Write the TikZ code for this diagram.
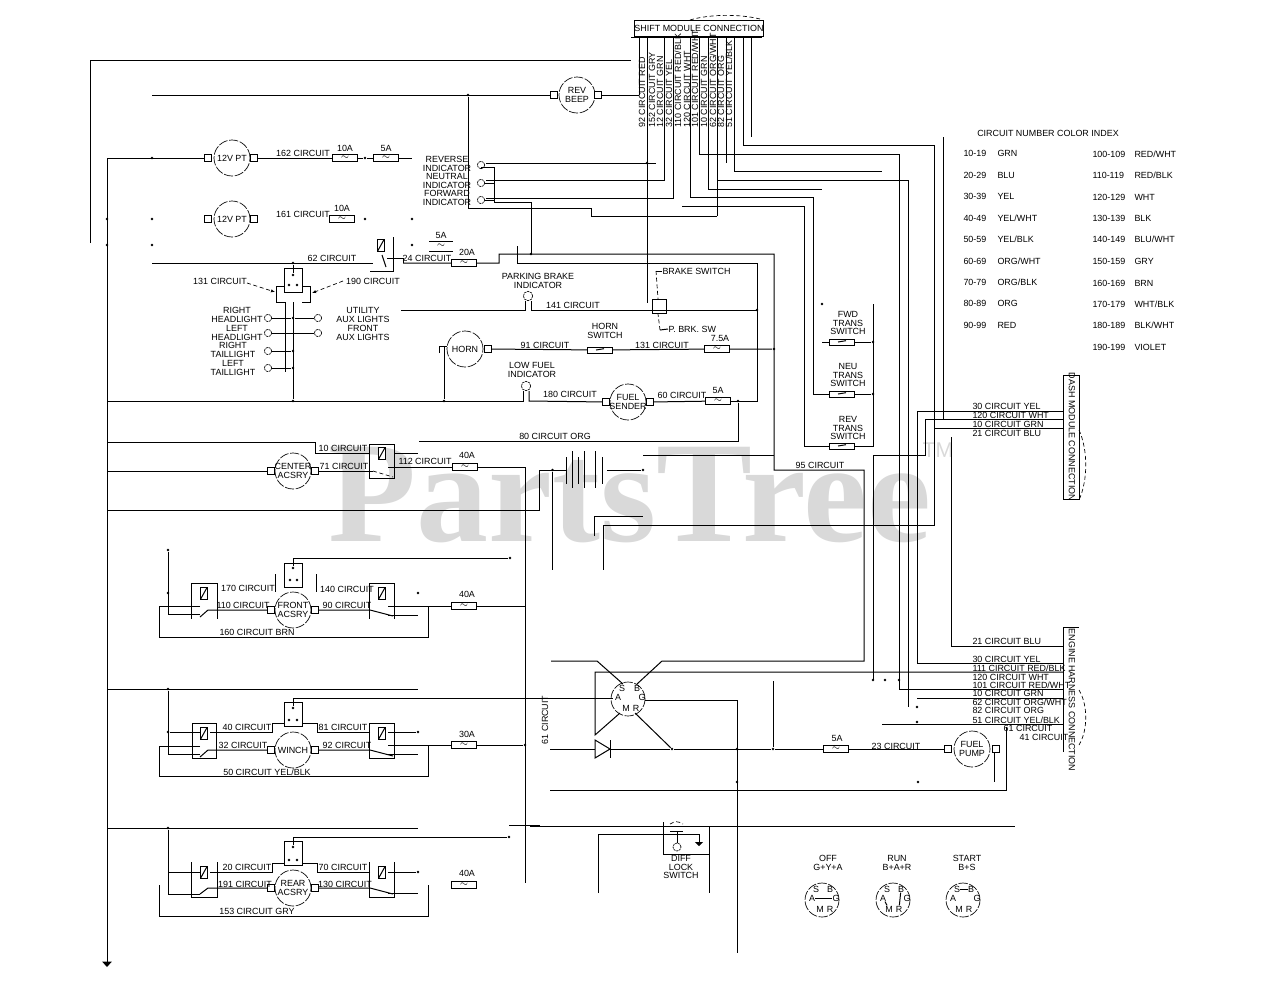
\documentclass[tikz,border=0pt]{standalone}
\usepackage{fontspec}
\setmainfont{Liberation Sans}
\newfontfamily\markfont{Liberation Serif}
\usetikzlibrary{arrows.meta}
\tikzset{
  lbl/.style={inner sep=0pt,align=center,font=\fontsize{6.7}{6.2}\selectfont},
  lbll/.style={lbl,anchor=west},
  lblv/.style={lbl,anchor=west,rotate=90},
  motor/.style={circle,draw,inner sep=0pt,minimum size=27pt,dash pattern=on 7pt off 1.2pt,line width=.5pt},
  smallcirc/.style={circle,draw,inner sep=0pt,minimum size=25.5pt,dash pattern=on 7pt off 1.2pt,line width=.5pt},
  term/.style={draw,rectangle,inner sep=0pt,minimum size=5.5pt,fill=white,path picture={\fill (path picture bounding box.center) circle (.7pt);}},
  fusebox/.style={draw,rectangle,inner sep=0pt,minimum width=18.5pt,minimum height=5.5pt,fill=white,font=\fontsize{7}{4}\selectfont},
  swbox/.style={fusebox,minimum height=4.5pt,path picture={\fill (path picture bounding box.center) ++(-3pt,0) circle (.6pt) ++(6pt,0) circle (.6pt);\draw (path picture bounding box.center) ++(-3pt,0) -- ++(6pt,1pt);}},
  relay/.style={draw,rectangle,inner sep=0pt,minimum width=18.5pt,minimum height=26pt},
  openrelay/.style={relay,draw=none},
  topbox/.style={draw,rectangle,inner sep=0pt,minimum width=13.5pt,minimum height=18pt},
  coil/.style={draw,rectangle,inner sep=0pt,minimum width=5pt,minimum height=9pt,fill=white,path picture={\draw (path picture bounding box.south west) -- (path picture bounding box.north east);}},
  lamp/.style={circle,draw,inner sep=0pt,minimum size=5.5pt,dash pattern=on 1.6pt off .6pt,line width=.5pt},
  jdot/.style={circle,fill,inner sep=0pt,minimum size=2pt},
  wire/.style={line width=.75pt},
  leader/.style={line width=.5pt,densely dashed}
}
\begin{document}
\begin{tikzpicture}[x=0.75pt,y=-0.75pt,wire]
    \useasboundingbox (0,0) rectangle (1280,989);
    % watermark
    \node [inner sep=0pt,text=black!15] (mark) at (630,495) {\markfont\bfseries\fontsize{108}{108}\selectfont PartsTree};
    \node [inner sep=0pt,text=black!15,font=\fontsize{16}{16}\selectfont] (markb) at (938,450) {TM};

    % shift module
    \node [draw,inner sep=0pt,minimum width=94pt,minimum height=12.5pt,lbl] (mod) at (699,28.5) {SHIFT MODULE CONNECTION};
    \coordinate (modl) at (631,37);
    \coordinate (modr) at (762,37);
    \draw (modl) -- (modr);
    \coordinate (arca) at (690,20);
    \coordinate (arcb) at (760,19);
    \draw [leader] (arca) .. controls (710,14) and (740,14) .. (arcb);
    \node [lblv] (v1) at (642,128) {92 CIRCUIT RED};
    \node [lblv] (v2) at (652,128) {152 CIRCUIT GRY};
    \node [lblv] (v3) at (660,128) {12 CIRCUIT GRN};
    \node [lblv] (v4) at (669,128) {32 CIRCUIT YEL};
    \node [lblv] (v5) at (678,128) {110 CIRCUIT RED/BLK};
    \node [lblv] (v6) at (687,128) {120 CIRCUIT WHT};
    \node [lblv] (v7) at (695,128) {101 CIRCUIT RED/WHT};
    \node [lblv] (v8) at (704,128) {10 CIRCUIT GRN};
    \node [lblv] (v9) at (713,128) {62 CIRCUIT ORG/WHT};
    \node [lblv] (v10) at (721,128) {82 CIRCUIT ORG};
    \node [lblv] (v11) at (729,128) {51 CIRCUIT YEL/BLK};

    \coordinate (ta) at (90,243);
    \coordinate (tb) at (631,60);
    \draw (ta) |- (tb);

    \coordinate (m1) at (639,37);
    \coordinate (m2) at (647,37);
    \coordinate (m3) at (664,37);
    \coordinate (m4) at (673,37);
    \coordinate (m5) at (690,37);
    \coordinate (m6) at (699,37);
    \coordinate (m7) at (708,37);
    \coordinate (m8) at (717,37);
    \coordinate (m9) at (726,37);
    \coordinate (m10) at (734,37);
    \coordinate (m11) at (743,37);
    \coordinate (m12) at (751,37);

    % rev beep
    \node [motor,label={[lbl]center:REV\\BEEP}] (beep) at (577,95) {};
    \node [term] (beepl) at (554,95) {};
    \node [term] (beepr) at (598,95) {};
    \coordinate (busb) at (152,95);
    \coordinate (m1b) at (639,95);
    \draw (m1) -- (m1b);
    \draw (busb) -- (beepl);
    \draw (beepr) -- (m1b);
    \node [jdot] (j468) at (468,95) {};
    \coordinate (k1) at (591,208);
    \coordinate (k2) at (717,216);
    \draw (j468) |- (k1) |- (k2);
    \draw (m8) -- (k2);

    % 12v outlets
    \node [motor,label={[lbl]center:12V PT}] (pta) at (232,158) {};
    \node [term] (ptal) at (208,158) {};
    \node [term] (ptar) at (254,158) {};
    \node [lbl] (c162) at (303,153) {162 CIRCUIT};
    \node [fusebox] (fa) at (345,158) {$\sim$};
    \node [lbl] (fal) at (345,148) {10A};
    \node [jdot] (ja) at (365,158) {};
    \node [fusebox] (fb) at (386,158) {$\sim$};
    \node [lbl] (fbl) at (386,148) {5A};
    \coordinate (fbe) at (412,158);
    \coordinate (gb1) at (107,158);
    \coordinate (gb2) at (107,967);
    \draw [-{Triangle[width=7pt,length=4pt]}] (gb1) -- (gb2);
    \draw (gb1) -- (ptal);
    \draw (ptar) -- (fa) -- (ja) -- (fb) -- (fbe);
    \node [motor,label={[lbl]center:12V PT}] (ptb) at (232,219) {};
    \node [term] (ptbl) at (208,219) {};
    \node [term] (ptbr) at (254,219) {};
    \node [lbl] (c161) at (303,214) {161 CIRCUIT};
    \node [fusebox] (fc) at (342,219) {$\sim$};
    \node [lbl] (fcl) at (342,208) {10A};
    \node [jdot] (jb) at (365,219) {};
    \node [jdot] (jc) at (152,158) {};
    \node [jdot] (jd) at (152,219) {};
    \node [jdot] (je) at (152,245) {};
    \node [jdot] (jf) at (107,219) {};
    \node [jdot] (jg) at (107,245) {};
    \node [jdot] (jh) at (412,219) {};
    \node [jdot] (ji) at (412,245) {};

    % indicators
    \node [lbl] (rev) at (447,164) {REVERSE\\INDICATOR};
    \node [lbl] (neu) at (447,181) {NEUTRAL\\INDICATOR};
    \node [lbl] (fwd) at (447,198) {FORWARD\\INDICATOR};
    \node [lamp] (la) at (481,165) {};
    \node [lamp] (lb) at (481,183) {};
    \node [lamp] (lc) at (481,200) {};
    \coordinate (ia) at (494,167);
    \coordinate (ib) at (494,202);
    \coordinate (ic) at (531,202);
    \coordinate (id) at (531,254);
    \coordinate (ie) at (656,163);
    \coordinate (if) at (486,163);
    \coordinate (in2) at (486,180);
    \coordinate (in3) at (486,198);
    \draw (la) |- (ia) -- (ib) -- (ic) -- (id);
    \draw (lb) -| (ia);
    \draw (lc) -| (ib);
    \draw (if) -- (ie);
    \draw (m3) |- (in2);
    \draw (m4) |- (in3);
    \coordinate (m2b) at (647,303);
    \draw (m2) -- (m2b);
    \node [jdot] (jm2) at (647,163) {};

    % right hand runs
    \coordinate (a5) at (813,197);
    \coordinate (a6) at (899,154);
    \coordinate (a6b) at (1063,689);
    \coordinate (a7) at (822,189);
    \coordinate (a8) at (717,180);
    \coordinate (a8b) at (908,707);
    \coordinate (a9) at (726,163);
    \coordinate (a10) at (882,171);
    \coordinate (a11) at (934,145);
    \coordinate (a11b) at (603,525);
    \coordinate (a11c) at (603,570);
    \coordinate (a12) at (751,137);
    \coordinate (a13) at (682,206);
    \coordinate (a13b) at (804,206);
    \node [swbox] (swf) at (842,342) {};
    \node [swbox] (swn) at (842,394) {};
    \node [swbox] (swr) at (842,446) {};
    \node [lbl] (lswf) at (848,323) {FWD\\TRANS\\SWITCH};
    \node [lbl] (lswn) at (848,375) {NEU\\TRANS\\SWITCH};
    \node [lbl] (lswr) at (848,428) {REV\\TRANS\\SWITCH};
    \coordinate (swa) at (822,342);
    \coordinate (rla) at (873,304);
    \coordinate (rlb) at (873,446);
    \node [jdot] (jra) at (873,342) {};
    \node [jdot] (jrb) at (873,394) {};
    \node [jdot] (jrt) at (822,304) {};
    \draw (m5) |- (a5) |- (swn);
    \draw (m6) |- (a6) |- (a6b);
    \draw (m7) |- (a7);
    \draw (a8) -| (a8b);
    \draw (m9) -- (a9);
    \draw (m10) |- (a10);
    \draw (m11) |- (a11) |- (a11b) -- (a11c);
    \draw (m12) -- (a12);
    \draw (a13) -- (a13b) |- (swr);
    \draw (swa) -- (swf) -- (jra);
    \draw (swn) -- (jrb);
    \draw (rla) -- (rlb) -- (swr);

    % colour index
    \node [lbl] (idx) at (1048,133) {CIRCUIT NUMBER COLOR INDEX};
    \node [lbll] (na1) at (963,153) {10-19};   \node [lbll] (ca1) at (997,153) {GRN};
    \node [lbll] (na2) at (963,175) {20-29};   \node [lbll] (ca2) at (997,175) {BLU};
    \node [lbll] (na3) at (963,196) {30-39};   \node [lbll] (ca3) at (997,196) {YEL};
    \node [lbll] (na4) at (963,218) {40-49};   \node [lbll] (ca4) at (997,218) {YEL/WHT};
    \node [lbll] (na5) at (963,239) {50-59};   \node [lbll] (ca5) at (997,239) {YEL/BLK};
    \node [lbll] (na6) at (963,261) {60-69};   \node [lbll] (ca6) at (997,261) {ORG/WHT};
    \node [lbll] (na7) at (963,282) {70-79};   \node [lbll] (ca7) at (997,282) {ORG/BLK};
    \node [lbll] (na8) at (963,303) {80-89};   \node [lbll] (ca8) at (997,303) {ORG};
    \node [lbll] (na9) at (963,325) {90-99};   \node [lbll] (ca9) at (997,325) {RED};
    \node [lbll] (nb1) at (1092,154) {100-109}; \node [lbll] (cb1) at (1134,154) {RED/WHT};
    \node [lbll] (nb2) at (1092,175) {110-119}; \node [lbll] (cb2) at (1134,175) {RED/BLK};
    \node [lbll] (nb3) at (1092,197) {120-129}; \node [lbll] (cb3) at (1134,197) {WHT};
    \node [lbll] (nb4) at (1092,218) {130-139}; \node [lbll] (cb4) at (1134,218) {BLK};
    \node [lbll] (nb5) at (1092,239) {140-149}; \node [lbll] (cb5) at (1134,239) {BLU/WHT};
    \node [lbll] (nb6) at (1092,261) {150-159}; \node [lbll] (cb6) at (1134,261) {GRY};
    \node [lbll] (nb7) at (1092,283) {160-169}; \node [lbll] (cb7) at (1134,283) {BRN};
    \node [lbll] (nb8) at (1092,304) {170-179}; \node [lbll] (cb8) at (1134,304) {WHT/BLK};
    \node [lbll] (nb9) at (1092,325) {180-189}; \node [lbll] (cb9) at (1134,325) {BLK/WHT};
    \node [lbll] (nb10) at (1092,347) {190-199}; \node [lbll] (cb10) at (1134,347) {VIOLET};

    % dash connector
    \node [draw,inner sep=0pt,minimum width=12pt,minimum height=93pt] (dash) at (1071,437) {};
    \node [lbl,rotate=-90] (ldash) at (1072,437) {DASH MODULE CONNECTION};
    \coordinate (dca) at (917,411);
    \coordinate (dcb) at (925,419);
    \coordinate (dcc) at (934,428);
    \coordinate (dce) at (1063,411);
    \coordinate (dcf) at (1063,419);
    \coordinate (dcg) at (1063,428);
    \coordinate (dch) at (943,419);
    \draw (dca) -- (dce);
    \draw (dcb) -- (dcf);
    \draw (dcc) -- (dcg);
    \coordinate (dci) at (943,137);
    \draw (dci) -- (dch);
    \node [lbll] (da) at (972,406) {30 CIRCUIT YEL};
    \node [lbll] (db) at (972,415) {120 CIRCUIT WHT};
    \node [lbll] (dc) at (972,424) {10 CIRCUIT GRN};
    \node [lbll] (dd) at (972,433) {21 CIRCUIT BLU};
    \coordinate (dka) at (1079,430);
    \coordinate (dkb) at (1079,500);
    \draw [leader] (dka) .. controls (1088,450) and (1088,480) .. (dkb);

    % engine connector
    \coordinate (ena) at (1063,752);
    \coordinate (enb) at (1079,627);
    \draw (ena) |- (enb);
    \node [lbl,rotate=-90] (leng) at (1072,700) {ENGINE HARNESS CONNECTION};
    \coordinate (eka) at (1079,690);
    \coordinate (ekb) at (1079,745);
    \draw [leader] (eka) .. controls (1088,705) and (1088,730) .. (ekb);
    \coordinate (e21) at (1063,646);
    \coordinate (e30) at (1063,663);
    \coordinate (e120) at (917,698);
    \coordinate (e120b) at (1063,698);
    \coordinate (e51) at (882,724);
    \coordinate (e51b) at (1063,724);
    \node [lbll] (ea) at (972,641) {21 CIRCUIT BLU};
    \node [lbll] (eb) at (972,659) {30 CIRCUIT YEL};
    \node [lbll] (ec) at (972,668) {111 CIRCUIT RED/BLK};
    \node [lbll] (ed) at (972,677) {120 CIRCUIT WHT};
    \node [lbll] (ee) at (972,685) {101 CIRCUIT RED/WHT};
    \node [lbll] (ef) at (972,693) {10 CIRCUIT GRN};
    \node [lbll] (eg) at (972,702) {62 CIRCUIT ORG/WHT};
    \node [lbll] (eh) at (972,710) {82 CIRCUIT ORG};
    \node [lbll] (ei) at (972,720) {51 CIRCUIT YEL/BLK};
    \node [lbl] (ej) at (1028,728) {61 CIRCUIT};
    \node [lbl] (ek) at (1044,737) {41 CIRCUIT};
    \coordinate (ra) at (951,437);
    \coordinate (rb) at (917,411);
    \coordinate (rc) at (873,680);
    \coordinate (rd) at (925,419);
    \coordinate (re) at (873,455);
    \coordinate (rf) at (925,455);
    \draw (ra) |- (e21);
    \draw (rb) |- (e30);
    \draw (rd) -- (rf) -- (re) -- (rc);
    \draw (e120) -- (e120b);
    \draw (e51) -- (e51b);
    \node [jdot] (jrc) at (873,680) {};
    \node [jdot] (jrd) at (885,680) {};
    \node [jdot] (jre) at (899,680) {};
    \node [jdot] (jrf) at (917,707) {};
    \node [jdot] (jrg) at (917,722) {};
    \node [jdot] (jrh) at (918,782) {};

    % 62 circuit and headlight relay
    \coordinate (c1) at (152,263);
    \coordinate (c2) at (373,263);
    \node [jdot] (jc1) at (293,263) {};
    \draw (c1) -- (c2);
    \node [lbl] (c62) at (332,258) {62 CIRCUIT};
    \node [coil] (csw) at (381,245) {};
    \coordinate (csa) at (393,237);
    \coordinate (csb) at (370,271);
    \draw (csa) |- (csb);
    \coordinate (csc) at (382,255);
    \coordinate (csd) at (386,267);
    \draw (csc) -- (csd);
    \coordinate (cse) at (387,258);
    \coordinate (csf) at (403,263);
    \draw (cse) -| (csf);
    \node [lbl] (c24) at (427,258) {24 CIRCUIT};
    \node [fusebox] (f20) at (464,263) {$\sim$};
    \node [lbl] (lf20) at (467,252) {20A};
    \node [lbl] (lf5b) at (441,235) {5A};
    \coordinate (f5a) at (429,241);
    \coordinate (f5b) at (453,241);
    \coordinate (f5c) at (429,251);
    \coordinate (f5d) at (453,251);
    \draw (f5a) -- (f5b);
    \draw (f5c) -- (f5d);
    \node [inner sep=0pt,font=\fontsize{7}{4}\selectfont] (f5s) at (441,246) {$\sim$};
    \coordinate (c3) at (499,254);
    \coordinate (c4) at (774,254);
    \coordinate (c5) at (774,470);
    \coordinate (c6) at (864,661);
    \coordinate (c7) at (662,661);
    \coordinate (c8) at (637,684);
    \draw (csf) -- (f20) -| (c3) -- (c4) -- (c5) -| (c6) -- (c7) -- (c8);
    \node [lbl] (c95) at (820,465) {95 CIRCUIT};
    \node [jdot] (jc3) at (531,254) {};

    \node [topbox] (hbox) at (293,280) {};
    \node [jdot] (hda) at (293,275) {};
    \node [jdot] (hdb) at (289,285) {};
    \node [jdot] (hdc) at (297,285) {};
    \draw (jc1) -- (hda);
    \coordinate (hc) at (276,286);
    \coordinate (hd) at (284,286);
    \coordinate (he) at (285,302);
    \coordinate (hf) at (310,286);
    \coordinate (hg) at (302,286);
    \coordinate (hh) at (310,302);
    \coordinate (hi) at (302,302);
    \coordinate (hj) at (276,302);
    \draw (hj) -- (hc) -- (hd);
    \draw (hg) -- (hf) -- (hh) -- (hi);
    \draw (hj) -- (he);
    \coordinate (hk) at (285,372);
    \coordinate (hl) at (293,302);
    \node [jdot] (hm) at (293,401) {};
    \draw (he) -- (hk);
    \draw (hl) -- (hm);
    \node [lbl] (c131) at (220,281) {131 CIRCUIT};
    \node [lbl] (c190) at (373,281) {190 CIRCUIT};
    \coordinate (lda) at (247,283);
    \coordinate (ldb) at (275,292);
    \coordinate (ldc) at (343,281);
    \coordinate (ldd) at (312,293);
    \draw [leader,-{Latex[length=3pt,width=2.5pt]}] (lda) -- (ldb);
    \draw [leader,-{Latex[length=3pt,width=2.5pt]}] (ldc) -- (ldd);
    \node [lbl] (lha) at (237,315) {RIGHT\\HEADLIGHT};
    \node [lbl] (lhb) at (237,333) {LEFT\\HEADLIGHT};
    \node [lbl] (lhc) at (233,350) {RIGHT\\TAILLIGHT};
    \node [lbl] (lhd) at (233,368) {LEFT\\TAILLIGHT};
    \node [lbl] (lhe) at (363,315) {UTILITY\\AUX LIGHTS};
    \node [lbl] (lhf) at (363,333) {FRONT\\AUX LIGHTS};
    \node [lamp] (lpa) at (268,318) {};
    \node [lamp] (lpb) at (268,333) {};
    \node [lamp] (lpc) at (268,351) {};
    \node [lamp] (lpd) at (268,368) {};
    \node [lamp] (lpe) at (318,318) {};
    \node [lamp] (lpf) at (318,333) {};
    \node [jdot] (hja) at (293,318) {};
    \node [jdot] (hjb) at (293,351) {};
    \node [jdot] (hjc) at (293,368) {};
    \draw (lpa) -- (hja) -- (lpe);
    \draw (lpb) -- (lpf);
    \draw (lpc) -- (hjb);
    \draw (lpd) -- (hjc);

    % brake circuit
    \coordinate (b1) at (401,310);
    \coordinate (b2) at (525,310);
    \coordinate (b3) at (531,310);
    \coordinate (b4) at (757,310);
    \coordinate (b5) at (525,301);
    \coordinate (b6) at (531,301);
    \node [lamp,minimum size=7pt] (pbk) at (528,296) {};
    \draw (b1) -- (b2) -- (b5);
    \draw (b6) -- (b3) -- (b4);
    \node [lbl] (lpbk) at (538,281) {PARKING BRAKE\\INDICATOR};
    \node [lbl] (c141) at (573,305) {141 CIRCUIT};
    \node [draw,inner sep=0pt,minimum width=10pt,minimum height=10.5pt] (bsw) at (659.5,306) {};
    \node [lbl,anchor=west] (lbsw) at (662,271) {BRAKE SWITCH};
    \node [lbl,anchor=west] (lpsw) at (668,329) {P. BRK. SW};
    \coordinate (bla) at (656,271);
    \coordinate (blb) at (658,299);
    \coordinate (blc) at (660,330);
    \coordinate (bld) at (658,314);
    \draw (lbsw.west) -- (bla);
    \draw [leader] (bla) -- (blb);
    \draw (lpsw.west) -- (blc);
    \draw [leader] (blc) -- (bld);
    \coordinate (p1) at (517,246);
    \coordinate (p2) at (757,263);
    \draw (p1) |- (p2);

    % horn
    \node [motor,label={[lbl]center:HORN}] (horn) at (465,349) {};
    \coordinate (hna) at (439,353);
    \coordinate (hnb) at (447,346);
    \coordinate (hnc) at (444,346);
    \node [jdot] (hnd) at (444,401) {};
    \draw (hna) |- (hnb);
    \draw (hnc) -- (hnd);
    \node [term] (hornr) at (488,349) {};
    \node [lbl] (c91) at (545,345) {91 CIRCUIT};
    \node [swbox] (hsw) at (600,350) {};
    \node [lbl] (lhsw) at (605,331) {HORN\\SWITCH};
    \node [lbl] (c131b) at (662,345) {131 CIRCUIT};
    \node [fusebox] (f75) at (717,349) {$\sim$};
    \node [lbl] (lf75) at (720,338) {7.5A};
    \node [jdot] (j774) at (774,349) {};
    \draw (hornr) -- (hsw) -- (f75) -- (j774);

    % fuel sender
    \node [lbl] (lfuel) at (532,370) {LOW FUEL\\INDICATOR};
    \node [lamp,minimum size=7pt] (lfl) at (526,386) {};
    \node [lbl] (c180) at (570,394) {180 CIRCUIT};
    \node [motor,label={[lbl]center:FUEL\\SENDER}] (fs) at (628,402) {};
    \node [term] (fsl) at (606,402) {};
    \node [term] (fsr) at (650,402) {};
    \node [lbl] (c60) at (682,395) {60 CIRCUIT};
    \node [fusebox] (f5e) at (718,401) {$\sim$};
    \node [lbl] (lf5e) at (718,390) {5A};
    \coordinate (ya) at (107,401);
    \coordinate (yb) at (523,401);
    \coordinate (yc) at (523,391);
    \coordinate (yd) at (529,391);
    \coordinate (ye) at (529,401);
    \draw (ya) -- (yb) -- (yc);
    \draw (yd) -- (ye) -- (fsl);
    \draw (fsr) -- (f5e);
    \draw (p2) |- (f5e);
    \node [jdot] (j738) at (738,401) {};
    \coordinate (o1) at (419,441);
    \draw (j738) |- (o1);
    \node [lbl] (c80) at (555,436) {80 CIRCUIT ORG};
    \node [jdot] (jb2) at (757,310) {};

    % center acsry
    \node [relay] (rc1) at (382,461.5) {};
    \node [coil] (cc1) at (382,453) {};
    \node [motor,label={[lbl]center:CENTER\\ACSRY}] (cent) at (293,471) {};
    \node [term] (centl) at (271,471) {};
    \node [term] (centr) at (315,471) {};
    \coordinate (q1) at (107,442);
    \coordinate (q2) at (315,453);
    \coordinate (q3) at (370,453);
    \coordinate (q4) at (418,453);
    \coordinate (q5) at (107,471);
    \coordinate (q6) at (373,471);
    \coordinate (q7) at (393,477);
    \coordinate (q8) at (388,467);
    \coordinate (q9) at (525,467);
    \coordinate (q10) at (525,883);
    \draw (q1) -| (q2) -- (q3);
    \draw (rc1.east |- q3) -- (q4);
    \draw (q5) -- (centl);
    \draw (centr) -- (q6);
    \draw [leader] (q6) -- (q7);
    \node [fusebox] (f40a) at (465,467) {$\sim$};
    \node [lbl] (lf40a) at (467,455) {40A};
    \node [lbl] (c10) at (343,448) {10 CIRCUIT};
    \node [lbl] (c71) at (344,466) {71 CIRCUIT};
    \node [lbl] (c112) at (425,461) {112 CIRCUIT};
    \draw (q8) -- (f40a) -- (q9) -- (q10);

    % battery
    \coordinate (ba1) at (566,457); \coordinate (ba2) at (566,484);
    \coordinate (bb1) at (572,451); \coordinate (bb2) at (572,488);
    \coordinate (bc1) at (578,457); \coordinate (bc2) at (578,484);
    \coordinate (bd1) at (584,451); \coordinate (bd2) at (584,488);
    \coordinate (be1) at (595,451); \coordinate (be2) at (595,488);
    \coordinate (bf1) at (602,457); \coordinate (bf2) at (602,484);
    \draw (ba1) -- (ba2);
    \draw (bb1) -- (bb2);
    \draw (bc1) -- (bc2);
    \draw (bd1) -- (bd2);
    \draw (be1) -- (be2);
    \draw (bf1) -- (bf2);
    \coordinate (bg) at (566,470);
    \node [jdot] (jbat) at (552.5,470) {};
    \coordinate (bh) at (552.5,570);
    \coordinate (bi) at (107,510);
    \coordinate (bj) at (539,470);
    \draw (bi) -| (bj) -- (bg);
    \draw (jbat) -- (bh);
    \coordinate (bk) at (607,470);
    \node [jdot] (bl) at (643,470) {};
    \draw (bk) -- (bl);
    \coordinate (bm) at (643,455);
    \coordinate (bmb) at (774,455);
    \draw (bm) -- (bmb);
    \coordinate (bn) at (594,536);
    \coordinate (bo) at (643,516);
    \draw (bn) |- (bo);

    % front acsry
    \node [topbox] (tb1) at (293,575) {};
    \node [openrelay] (rl1) at (204.5,601) {};
    \node [openrelay] (rr1) at (382,601) {};
    \draw (rl1.south west) |- (rl1.north east) -- (rl1.south east);
    \draw (rr1.south west) |- (rr1.north east) -- (rr1.south east);
    \node [coil] (cl1) at (204,593) {};
    \node [coil] (cr1) at (382,593) {};
    \node [motor,label={[lbl]center:FRONT\\ACSRY}] (front) at (293,610) {};
    \node [term] (frl) at (271,610) {};
    \node [term] (frr) at (315,610) {};
    \node [jdot] (t1a) at (293,568) {};
    \node [jdot] (t1d) at (290,580) {};
    \node [jdot] (t1e) at (297,580) {};
    \coordinate (t1b) at (293,558);
    \node [jdot] (t1c) at (510,558) {};
    \draw (t1a) -- (t1b) -- (t1c);
    \node [jdot] (g1a) at (168,550) {};
    \node [jdot] (g1b) at (168,593) {};
    \coordinate (g1c) at (168,614);
    \coordinate (g1d) at (200,614);
    \draw (g1a) -- (g1c) -- (g1d);
    \coordinate (g1e) at (200,606);
    \coordinate (g1f) at (159,606);
    \coordinate (g1g) at (428,637);
    \coordinate (g1h) at (428,606);
    \draw (g1e) -- (g1f) |- (g1g) -- (g1h);
    \coordinate (g1i) at (208,610);
    \coordinate (g1j) at (200,617);
    \coordinate (g1k) at (370,610);
    \coordinate (g1l) at (393,616);
    \draw (g1j) -- (g1i) -- (frl);
    \draw (frr) -- (g1k) -- (g1l);
    \coordinate (g1m) at (388,606);
    \node [fusebox] (f40b) at (464,606) {$\sim$};
    \node [lbl] (lf40b) at (467,594) {40A};
    \coordinate (g1n) at (525,606);
    \draw (g1m) -- (f40b) -- (g1n);
    \coordinate (g1o) at (388,615);
    \coordinate (g1p) at (418,615);
    \draw (g1o) -- (g1p);
    \node [jdot] (g1q) at (418,593) {};
    \coordinate (g1r) at (275,574);
    \coordinate (g1s) at (275,592);
    \coordinate (g1t) at (316,574);
    \coordinate (g1u) at (316,592);
    \draw (g1r) -- (g1s);
    \draw (g1t) -- (g1u);
    \node [lbl] (c170) at (248,588) {170 CIRCUIT};
    \node [lbl] (c140) at (347,589) {140 CIRCUIT};
    \node [lbl] (c110) at (243,605) {110 CIRCUIT};
    \node [lbl] (c90) at (347,605) {90 CIRCUIT};
    \node [lbl] (c160) at (257,632) {160 CIRCUIT BRN};

    % winch
    \coordinate (w1) at (107,689);
    \coordinate (w2) at (418,689);
    \node [jdot] (wj) at (168,689) {};
    \draw (w1) -- (w2);
    \node [topbox] (tb2) at (293,714) {};
    \node [relay] (rl2) at (204.5,741) {};
    \node [relay] (rr2) at (382,741) {};
    \node [coil] (cl2) at (204,733) {};
    \node [coil] (cr2) at (382,733) {};
    \node [motor,label={[lbl]center:WINCH}] (winch) at (293,750) {};
    \node [term] (wnl) at (271,750) {};
    \node [term] (wnr) at (315,750) {};
    \node [jdot] (t2a) at (293,708) {};
    \coordinate (t2b) at (293,698);
    \coordinate (t2c) at (613,698);
    \draw (t2a) -- (t2b) -- (t2c);
    \node [jdot] (t2d) at (289,720) {};
    \node [jdot] (t2e) at (297,720) {};
    \coordinate (w3) at (168,754);
    \coordinate (w4) at (200,754);
    \node [jdot] (w5) at (168,732) {};
    \draw (wj) -- (w3) -- (w4);
    \coordinate (w6) at (200,732);
    \draw (w5) -- (w6);
    \coordinate (w7) at (200,746);
    \coordinate (w8) at (159,746);
    \coordinate (w9) at (428,776);
    \coordinate (w10) at (428,745);
    \draw (w7) -- (w8) |- (w9) -- (w10);
    \coordinate (w11) at (210,732);
    \coordinate (w12) at (272,732);
    \coordinate (w13) at (284,723);
    \coordinate (w14) at (317,732);
    \coordinate (w15) at (302,723);
    \coordinate (w16) at (370,732);
    \draw (w11) -- (w12) |- (w13);
    \draw (w16) -- (w14) |- (w15);
    \coordinate (w17) at (208,750);
    \coordinate (w18) at (200,757);
    \coordinate (w19) at (370,750);
    \coordinate (w20) at (393,756);
    \draw (w18) -- (w17) -- (wnl);
    \draw (wnr) -- (w19) -- (w20);
    \node [jdot] (w21) at (418,732) {};
    \coordinate (w22) at (388,732);
    \draw (w22) -- (w21);
    \coordinate (w23) at (388,745);
    \node [fusebox] (f30) at (464,745) {$\sim$};
    \node [lbl] (lf30) at (467,734) {30A};
    \node [jdot] (w24) at (525,745) {};
    \draw (w23) -- (f30) -- (w24);
    \coordinate (w25) at (388,754);
    \coordinate (w26) at (418,754);
    \draw (w25) -- (w26);
    \node [lbl] (c40) at (247,727) {40 CIRCUIT};
    \node [lbl] (c81) at (343,727) {81 CIRCUIT};
    \node [lbl] (c32) at (243,745) {32 CIRCUIT};
    \node [lbl] (c92) at (347,745) {92 CIRCUIT};
    \node [lbl] (c50) at (267,772) {50 CIRCUIT YEL/BLK};

    % rear acsry
    \coordinate (x1) at (107,828);
    \coordinate (x2) at (418,828);
    \node [jdot] (xj) at (168,828) {};
    \draw (x1) -- (x2);
    \node [topbox] (tb3) at (293,853.5) {};
    \node [openrelay] (rl3) at (204.5,880) {};
    \node [openrelay] (rr3) at (382,880) {};
    \draw (rl3.north west) |- (rl3.south east) -- (rl3.north east);
    \draw (rr3.north west) |- (rr3.south east) -- (rr3.north east);
    \node [coil] (cl3) at (204,872) {};
    \node [coil] (cr3) at (382,872) {};
    \node [motor,label={[lbl]center:REAR\\ACSRY}] (rear) at (293,888) {};
    \node [term] (rrl) at (271,888) {};
    \node [term] (rrr) at (315,888) {};
    \node [jdot] (t3a) at (293,847) {};
    \coordinate (t3b) at (293,837);
    \node [jdot] (t3c) at (509,837) {};
    \draw (t3a) -- (t3b) -- (t3c);
    \node [jdot] (t3d) at (289,860) {};
    \node [jdot] (t3e) at (297,860) {};
    \coordinate (x3) at (168,894);
    \coordinate (x4) at (200,894);
    \draw (xj) -- (x3) -- (x4);
    \coordinate (x5) at (168,872);
    \coordinate (x6) at (200,872);
    \draw (x5) -- (x6);
    \coordinate (x7) at (159,885);
    \coordinate (x8) at (428,916);
    \coordinate (x9) at (428,885);
    \draw (x7) |- (x8) -- (x9);
    \coordinate (x10) at (210,872);
    \coordinate (x11) at (272,872);
    \coordinate (x12) at (284,863);
    \coordinate (x13) at (317,872);
    \coordinate (x14) at (302,863);
    \coordinate (x15) at (370,872);
    \draw (x10) -- (x11) |- (x12);
    \draw (x15) -- (x13) |- (x14);
    \coordinate (x16) at (208,888);
    \coordinate (x17) at (200,894);
    \coordinate (x18) at (370,888);
    \coordinate (x19) at (393,894);
    \draw (x17) -- (x16) -- (rrl);
    \draw (rrr) -- (x18) -- (x19);
    \node [jdot] (x20) at (418,872) {};
    \coordinate (x21) at (388,872);
    \draw (x21) -- (x20);
    \coordinate (x22) at (388,893);
    \coordinate (x23) at (418,893);
    \draw (x22) -- (x23);
    \node [fusebox] (f40c) at (464,885) {$\sim$};
    \node [lbl] (lf40c) at (467,873) {40A};
    \node [lbl] (c20) at (247,867) {20 CIRCUIT};
    \node [lbl] (c70) at (343,867) {70 CIRCUIT};
    \node [lbl] (c191) at (245,884) {191 CIRCUIT};
    \node [lbl] (c130) at (345,884) {130 CIRCUIT};
    \node [lbl] (c153) at (257,911) {153 CIRCUIT GRY};
    \coordinate (x24) at (509,825);
    \coordinate (x25) at (540,825);
    \draw (x24) -- (x25);

    % starter key
    \node [smallcirc] (key) at (628,699) {};
    \node [lbl] (ks) at (622,688) {S};
    \node [lbl] (kb) at (637,688) {B};
    \node [lbl] (ka) at (618,697) {A};
    \node [lbl] (kg) at (642,697) {G};
    \node [lbl] (km) at (626,708) {M};
    \node [lbl] (kr) at (636,708) {R};
    \coordinate (s1) at (551,661);
    \coordinate (s2) at (597,661);
    \coordinate (s3) at (623,684);
    \draw (s1) -- (s2) -- (s3);
    \coordinate (s4) at (1063,672);
    \coordinate (s5) at (595,672);
    \coordinate (s6) at (595,735);
    \coordinate (s7) at (620,713);
    \draw (s4) -- (s5) -- (s6) -- (s7);
    \coordinate (s8) at (737,700);
    \coordinate (s9) at (737,953);
    \coordinate (s10) at (645,700);
    \draw (s10) -- (s8) -- (s9);
    \node [jdot] (s11) at (737,749) {};
    \node [jdot] (s12) at (737,782) {};
    \node [jdot] (s13) at (672,749) {};
    \coordinate (s14) at (635,713);
    \draw (s14) -- (s13);
    \coordinate (s15) at (550,749);
    \coordinate (s16) at (595,749);
    \draw (s15) -- (s16);
    \coordinate (d1) at (595,740);
    \coordinate (d2) at (595,758);
    \coordinate (d3) at (610,749);
    \coordinate (d4) at (610,740);
    \coordinate (d5) at (610,758);
    \draw (d1) -- (d2) -- (d3) -- cycle;
    \draw (d4) -- (d5);
    \node [fusebox] (f5p) at (836,749) {$\sim$};
    \node [lbl] (lf5p) at (837,738) {5A};
    \node [lbl] (c23) at (896,746) {23 CIRCUIT};
    \node [jdot] (s17) at (773,749) {};
    \coordinate (s18) at (773,681);
    \draw (s17) -- (s18);
    \node [motor,label={[lbl]center:FUEL\\PUMP}] (pump) at (972,749) {};
    \node [term] (pumpl) at (948,749) {};
    \node [term] (pumpr) at (996,749) {};
    \draw (d3) -- (s13) -- (s17) -- (f5p) -- (pumpl);
    \coordinate (s19) at (994,753);
    \coordinate (s20) at (994,782);
    \draw (s19) -- (s20);
    \coordinate (s21) at (550,790);
    \coordinate (s22) at (1006,727);
    \draw (s21) -| (s22);
    \node [lbl,rotate=90] (c61) at (545,720) {61 CIRCUIT};

    % diff lock
    \coordinate (u1) at (530,826);
    \coordinate (u2) at (1015,826);
    \draw (u1) -- (u2);
    \coordinate (u3) at (663,822);
    \coordinate (u4) at (709,854);
    \coordinate (u5) at (709,826);
    \coordinate (u6) at (709,893);
    \draw (u3) |- (u4);
    \draw (u5) -- (u6);
    \coordinate (u7) at (670,831);
    \coordinate (u8) at (683,831);
    \coordinate (u9) at (677,831);
    \node [lamp,minimum size=6pt] (u10) at (677,847) {};
    \draw (u7) -- (u8);
    \draw (u9) -- (u10);
    \coordinate (u11) at (598,893);
    \coordinate (u12) at (681,834);
    \coordinate (u13) at (699,834);
    \coordinate (u14) at (699,846);
    \draw (u11) |- (u12);
    \draw [-{Triangle[width=6pt,length=3pt]}] (u12) -- (u13) -- (u14);
    \coordinate (u15) at (670,824);
    \coordinate (u16) at (683,824);
    \draw [leader] (u15) .. controls (675,821) and (678,821) .. (u16);
    \node [lbl] (ldiff) at (681,867) {DIFF\\LOCK\\SWITCH};

    % key positions
    \node [lbl] (koff) at (828,863) {OFF\\G+Y+A};
    \node [lbl] (krun) at (897,863) {RUN\\B+A+R};
    \node [lbl] (kst) at (967,863) {START\\B+S};
    \node [smallcirc] (ka1) at (822,900) {};
    \node [smallcirc] (ka2) at (893,900) {};
    \node [smallcirc] (ka3) at (963,900) {};
    \node [lbl] (a1s) at (816,889) {S};
    \node [lbl] (a1b) at (830,889) {B};
    \node [lbl] (a1a) at (812,898) {A};
    \node [lbl] (a1g) at (836,898) {G};
    \node [lbl] (a1m) at (820,909) {M};
    \node [lbl] (a1r) at (830,909) {R};
    \node [lbl] (a2s) at (887,889) {S};
    \node [lbl] (a2b) at (901,889) {B};
    \node [lbl] (a2a) at (883,898) {A};
    \node [lbl] (a2g) at (907,898) {G};
    \node [lbl] (a2m) at (889,909) {M};
    \node [lbl] (a2r) at (899,909) {R};
    \node [lbl] (a3s) at (957,889) {S};
    \node [lbl] (a3b) at (971,889) {B};
    \node [lbl] (a3a) at (953,898) {A};
    \node [lbl] (a3g) at (977,898) {G};
    \node [lbl] (a3m) at (959,909) {M};
    \node [lbl] (a3r) at (969,909) {R};
    \draw (a1a) -- (a1g);
    \draw (a2a) -- (a2m);
    \draw (a2b) -- (a2r);
    \draw (a3s) -- (a3b);
\end{tikzpicture}
\end{document}
